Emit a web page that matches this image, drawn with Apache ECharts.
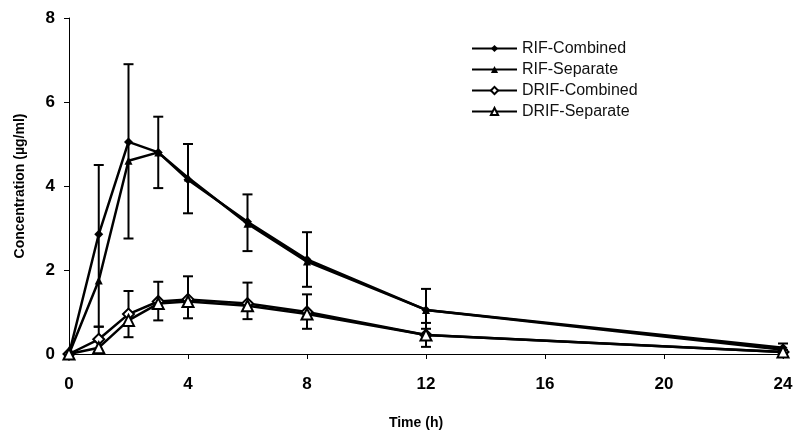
<!DOCTYPE html>
<html>
<head>
	<meta charset="UTF-8">
	<title>RIF / DRIF concentration</title>
	<script src="https://cdn.jsdelivr.net/npm/echarts@6/dist/echarts.min.js"></script>
</head>
<body style="margin:0">
	<div id="main" style="width: 794px; height: 430px;"></div>
	<script>
		// sampling times (h)
		var times = [0, 1, 2, 3, 4, 6, 8, 12, 24]
		// mean concentrations (ug/ml)
		var rifCombined = [0, 2.85, 5.05, 4.8, 4.15, 3.15, 2.25, 1.05, 0.15]
		var rifSeparate = [0, 1.75, 4.6, 4.8, 4.2, 3.1, 2.2, 1.05, 0.1]
		var drifCombined = [0, 0.35, 0.95, 1.25, 1.3, 1.2, 1.0, 0.45, 0.05]
		var drifSeparate = [0, 0.15, 0.8, 1.2, 1.25, 1.15, 0.95, 0.45, 0.05]
		// error bar ends
		var rifLow = [null, 0.65, 2.75, 3.95, 3.35, 2.45, 1.6, 0.6, 0.02]
		var rifHigh = [null, 4.5, 6.9, 5.65, 5.0, 3.8, 2.9, 1.55, 0.25]
		var drifLow = [null, 0.05, 0.4, 0.8, 0.85, 0.83, 0.6, 0.17, 0]
		var drifHigh = [null, 0.65, 1.5, 1.72, 1.85, 1.7, 1.42, 0.74, 0.1]

		function pairs(values) {
			return times.map(function (t, i) { return [t, values[i]] })
		}

		function errData(low, high) {
			var out = []
			for (var i = 0; i < times.length; i++) {
				if (low[i] == null) continue
				out.push([times[i], low[i], high[i]])
			}
			return out
		}

		function renderErr(params, api) {
			var x = api.value(0)
			var lo = api.coord([x, api.value(1)])
			var hi = api.coord([x, api.value(2)])
			var w = 5
			var style = { stroke: '#000', lineWidth: 2 }
			return {
				type: 'group',
				children: [
					{ type: 'line', shape: { x1: lo[0], y1: lo[1], x2: hi[0], y2: hi[1] }, style: style },
					{ type: 'line', shape: { x1: lo[0] - w, y1: lo[1], x2: lo[0] + w, y2: lo[1] }, style: style },
					{ type: 'line', shape: { x1: hi[0] - w, y1: hi[1], x2: hi[0] + w, y2: hi[1] }, style: style }
				]
			}
		}

		var axisFont = { color: '#000', fontFamily: 'Liberation Sans', fontWeight: 'bold', fontSize: 17 }

		const myChart = echarts.init(document.getElementById('main'))
		var option = {
			backgroundColor: '#fff',
			animation: false,
			grid: { left: 69, right: 11, top: 18, bottom: 76, outerBoundsMode: 'none', containLabel: false },
			legend: {
				orient: 'vertical',
				left: 471,
				top: 38,
				padding: 0,
				itemWidth: 45,
				itemHeight: 9,
				itemGap: 0,
				textStyle: { color: '#111', fontFamily: 'Liberation Sans', fontSize: 16, lineHeight: 21 },
				data: ['RIF-Combined', 'RIF-Separate', 'DRIF-Combined', 'DRIF-Separate']
			},
			xAxis: {
				type: 'value',
				min: 0,
				max: 24,
				interval: 4,
				name: 'Time (h)',
				nameLocation: 'middle',
				nameGap: 62,
				nameTextStyle: { color: '#000', fontFamily: 'Liberation Sans', fontWeight: 'bold', fontSize: 14, padding: [0, 20, 0, 0] },
				axisLine: { lineStyle: { color: '#000', width: 1 } },
				axisTick: { length: 5, lineStyle: { color: '#000' } },
				axisLabel: Object.assign({ margin: 22 }, axisFont),
				splitLine: { show: false }
			},
			yAxis: {
				type: 'value',
				min: 0,
				max: 8,
				interval: 2,
				name: 'Concentration (µg/ml)',
				nameLocation: 'middle',
				nameGap: 42,
				nameTextStyle: { color: '#000', fontFamily: 'Liberation Sans', fontWeight: 'bold', fontSize: 14 },
				axisLine: { show: true, lineStyle: { color: '#000', width: 1 } },
				axisTick: { show: true, length: 5, lineStyle: { color: '#000' } },
				axisLabel: Object.assign({ margin: 14 }, axisFont),
				splitLine: { show: false }
			},
			series: [
				{
					name: 'RIF error',
					type: 'custom',
					renderItem: renderErr,
					data: errData(rifLow, rifHigh),
					encode: { x: 0, y: [1, 2] },
					z: 1
				},
				{
					name: 'DRIF error',
					type: 'custom',
					renderItem: renderErr,
					data: errData(drifLow, drifHigh),
					encode: { x: 0, y: [1, 2] },
					z: 1
				},
				{
					name: 'RIF-Combined',
					type: 'line',
					data: pairs(rifCombined),
					symbol: 'diamond',
					symbolSize: 9,
					lineStyle: { color: '#000', width: 2.5 },
					itemStyle: { color: '#000' },
					z: 3
				},
				{
					name: 'RIF-Separate',
					type: 'line',
					data: pairs(rifSeparate),
					symbol: 'triangle',
					symbolSize: 8,
					lineStyle: { color: '#000', width: 2.5 },
					itemStyle: { color: '#000' },
					z: 3
				},
				{
					name: 'DRIF-Combined',
					type: 'line',
					data: pairs(drifCombined),
					symbol: 'diamond',
					symbolSize: 11,
					lineStyle: { color: '#000', width: 2.5 },
					itemStyle: { color: '#fff', borderColor: '#000', borderWidth: 2 },
					z: 3
				},
				{
					name: 'DRIF-Separate',
					type: 'line',
					data: pairs(drifSeparate),
					symbol: 'triangle',
					symbolSize: 11,
					lineStyle: { color: '#000', width: 2.5 },
					itemStyle: { color: '#fff', borderColor: '#000', borderWidth: 2 },
					z: 4
				}
			]
		}
		myChart.setOption(option)
	</script>
</body>
</html>
